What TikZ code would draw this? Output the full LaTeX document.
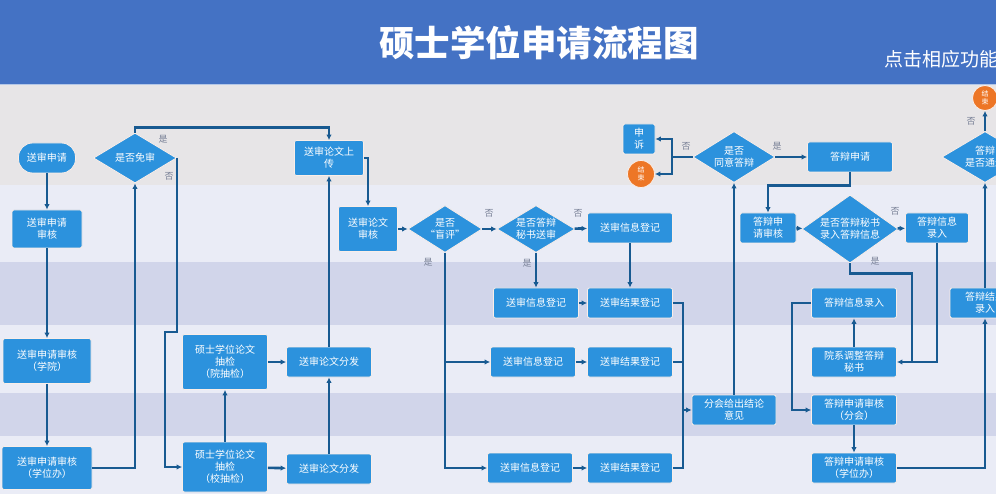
\documentclass[tikz,border=0pt]{standalone}
\usepackage{fontspec}
\setmainfont{Noto Sans CJK SC}
\usetikzlibrary{shapes.geometric,arrows.meta}

\definecolor{titleblue}{RGB}{68,114,196}
\definecolor{topgray}{RGB}{231,229,231}
\definecolor{lanelight}{RGB}{234,236,246}
\definecolor{lanedark}{RGB}{209,213,234}
\definecolor{nodeblue}{RGB}{44,146,221}
\definecolor{linkblue}{RGB}{24,90,145}
\definecolor{stoporange}{RGB}{237,118,38}
\definecolor{labelgray}{RGB}{120,128,150}
\definecolor{glow}{RGB}{250,238,232}

\begin{document}
\begin{tikzpicture}[x=1pt,y=-1pt,
		box/.style={rectangle, rounded corners=2pt, fill=nodeblue, draw=glow, line width=0.8pt, text=white, align=center, inner sep=1pt, font=\fontsize{10}{12}\selectfont},
		decision/.style={diamond, fill=nodeblue, draw=glow, line width=0.8pt, text=white, align=center, inner sep=0pt, font=\fontsize{10}{12}\selectfont},
		stopnode/.style={circle, fill=stoporange, draw=glow, line width=0.8pt, text=white, align=center, inner sep=0pt, font=\fontsize{7}{7.5}\selectfont},
		wire/.style={draw=linkblue, line width=2.6pt},
		link/.style={wire, -{Latex[length=5.5pt,width=5.5pt]}},
		lbl/.style={text=labelgray, inner sep=0pt, font=\fontsize{9}{9}\selectfont}]
		\useasboundingbox (0,0) rectangle (996,494);
		\begin{scope}
			\clip (0,0) rectangle (996,494);
			% bands
			\fill[titleblue] (0,0) rectangle (996,85);
			\draw[white!60!titleblue, line width=1pt] (0,84.5) -- (996,84.5);
			\fill[topgray] (0,85) rectangle (996,185);
			\fill[lanelight] (0,185) rectangle (996,262);
			\fill[lanedark] (0,262) rectangle (996,325);
			\fill[lanelight] (0,325) rectangle (996,393);
			\fill[lanedark] (0,393) rectangle (996,436);
			\fill[lanelight] (0,436) rectangle (996,494);

			\node[text=white, font=\fontsize{35.5}{36}\selectfont\bfseries] (title) at (539,43) {硕士学位申请流程图};
			\node[anchor=west, text=white, inner sep=0pt, font=\fontsize{19}{19}\selectfont] (hint) at (884,59) {点击相应功能};

			% send for review
			\node[box, rounded corners=14pt, minimum width=57pt, minimum height=30pt] (apply) at (47,158) {送审申请};
			\node[box, minimum width=70pt, minimum height=38pt] (check) at (47,229) {送审申请\\审核};
			\node[box, minimum width=88pt, minimum height=45pt] (checkxy) at (47,361) {送审申请审核\\（学院）};
			\node[box, minimum width=90pt, minimum height=43pt] (checkxwb) at (47,468) {送审申请审核\\（学位办）};
			\node[decision, aspect=1.66, minimum width=83pt, minimum height=50pt] (exempt) at (135,158) {是否免审};
			\node[box, minimum width=69pt, minimum height=35pt] (upload) at (329,158) {送审论文上\\传};
			\node[box, minimum width=59pt, minimum height=45pt] (review) at (368,229) {送审论文\\审核};
			\node[box, minimum width=85pt, minimum height=55pt] (drawy) at (225,362) {硕士学位论文\\抽检\\（院抽检）};
			\node[box, minimum width=85pt, minimum height=50pt] (draws) at (225,467) {硕士学位论文\\抽检\\（校抽检）};
			\node[box, minimum width=85pt, minimum height=30pt] (senda) at (329,362) {送审论文分发};
			\node[box, minimum width=85pt, minimum height=30pt] (sendb) at (329,469) {送审论文分发};

			% blind review
			\node[decision, aspect=1.57, minimum width=74pt, minimum height=47pt] (blind) at (445,229) {是否\\“盲评”};
			\node[decision, aspect=1.66, minimum width=78pt, minimum height=47pt] (secr) at (536,229) {是否答辩\\秘书送审};
			\node[box, minimum width=85pt, minimum height=30pt] (infoa) at (630,228) {送审信息登记};
			\node[box, minimum width=85pt, minimum height=30pt] (infob) at (536,303) {送审信息登记};
			\node[box, minimum width=85pt, minimum height=30pt] (resb) at (630,303) {送审结果登记};
			\node[box, minimum width=85pt, minimum height=30pt] (infoc) at (533,362) {送审信息登记};
			\node[box, minimum width=85pt, minimum height=30pt] (resc) at (630,362) {送审结果登记};
			\node[box, minimum width=85pt, minimum height=30pt] (infod) at (530,468) {送审信息登记};
			\node[box, minimum width=85pt, minimum height=30pt] (resd) at (630,468) {送审结果登记};
			\node[box, minimum width=84pt, minimum height=30pt] (verdict) at (734,410) {分会给出结论\\意见};
			\coordinate (bus) at (683,410);

			% defence
			\node[decision, aspect=1.6, minimum width=82pt, minimum height=51pt] (agree) at (734,157) {是否\\同意答辩};
			\node[box, minimum width=32pt, minimum height=30pt] (appeal) at (639,139) {申\\诉};
			\node[stopnode, minimum size=27pt] (enda) at (641,174) {结\\束};
			\coordinate (ja) at (672,157);
			\node[box, minimum width=85pt, minimum height=30pt] (dapply) at (850,157) {答辩申请};
			\node[box, minimum width=56pt, minimum height=30pt] (dcheck) at (768,228) {答辩申\\请审核};
			\node[decision, aspect=1.41, minimum width=96pt, minimum height=68pt] (dsecr) at (850,229) {是否答辩秘书\\录入答辩信息};
			\node[box, minimum width=63pt, minimum height=30pt] (dinfoa) at (937,228) {答辩信息\\录入};
			\node[box, minimum width=85pt, minimum height=30pt] (dinfob) at (854,303) {答辩信息录入};
			\node[box, minimum width=85pt, minimum height=30pt] (adjust) at (854,362) {院系调整答辩\\秘书};
			\node[box, minimum width=85pt, minimum height=30pt] (dfh) at (854,410) {答辩申请审核\\（分会）};
			\node[box, minimum width=85pt, minimum height=30pt] (dxwb) at (854,468) {答辩申请审核\\（学位办）};
			\coordinate (jb) at (912,362);
			\node[box, minimum width=70pt, minimum height=30pt] (dres) at (985,303) {答辩结果\\录入};
			\node[decision, aspect=1.6, minimum width=86pt, minimum height=51pt] (pass) at (985,157) {答辩\\是否通过};
			\node[stopnode, minimum size=25pt] (endb) at (985,98) {结\\束};

			% connectors
			\draw[link] (apply) -- (check);
			\draw[link] (check) -- (checkxy);
			\draw[link] (checkxy) -- (checkxwb);
			\draw[link] (checkxwb.east) -| (exempt.south);
			\draw[link] (exempt.north) -- ++(0,-5) -| (upload.north);
			\draw[link] (exempt.east) -- ++(0,174) -- ++(-12,0) |- (draws.west);
			\draw[link] (draws) -- (drawy);
			\draw[link] (drawy) -- (senda);
			\draw[link] (draws) -- (sendb);
			\draw[link] (sendb) -- (senda);
			\draw[link] (senda) -- (upload);
			\draw[link] (upload.east) -| (review.north);
			\draw[link] (review) -- (blind);
			\draw[link] (blind) -- (secr);
			\draw[link] (secr) -- (infoa);
			\draw[link] (secr) -- (infob);
			\draw[link] (infoa) -- (resb);
			\draw[link] (infob) -- (resb);
			\draw[link] (blind.south) |- (infoc.west);
			\draw[link] (blind.south) |- (infod.west);
			\draw[link] (infoc) -- (resc);
			\draw[link] (infod) -- (resd);
			\draw[wire] (resb.east) -| (bus);
			\draw[wire] (resc.east) -| (bus);
			\draw[wire] (resd.east) -| (bus);
			\draw[link] (bus) -- (verdict.west);
			\draw[link] (verdict) -- (agree);
			\draw[wire] (agree.west) -- (ja);
			\draw[link] (ja) |- (appeal.east);
			\draw[link] (ja) |- (enda.east);
			\draw[link] (agree) -- (dapply);
			\draw[link] (dapply.south) -- ++(0,13) -| (dcheck.north);
			\draw[link] (dcheck) -- (dsecr);
			\draw[link] (dsecr) -- (dinfoa);
			\draw[link] (dsecr.south) -- ++(0,10) -| (jb) -- (adjust.east);
			\draw[wire] (dinfoa.south) |- (jb);
			\draw[link] (adjust) -- (dinfob);
			\draw[link] (dinfob.west) -- ++(-19,0) |- (dfh.west);
			\draw[link] (dfh) -- (dxwb);
			\draw[link] (dxwb.east) -| (dres.south);
			\draw[link] (dres) -- (pass);
			\draw[link] (pass) -- (endb);

			% yes / no
			\node[lbl] (ya) at (163,139) {是};
			\node[lbl] (na) at (169,176) {否};
			\node[lbl] (yb) at (428,262) {是};
			\node[lbl] (nb) at (489,213) {否};
			\node[lbl] (yc) at (527,263) {是};
			\node[lbl] (nc) at (578,213) {否};
			\node[lbl] (nd) at (686,146) {否};
			\node[lbl] (yd) at (777,146) {是};
			\node[lbl] (ne) at (895,211) {否};
			\node[lbl] (ye) at (875,261) {是};
			\node[lbl] (nf) at (971,121) {否};
		\end{scope}
		\end{tikzpicture}
\end{document}
